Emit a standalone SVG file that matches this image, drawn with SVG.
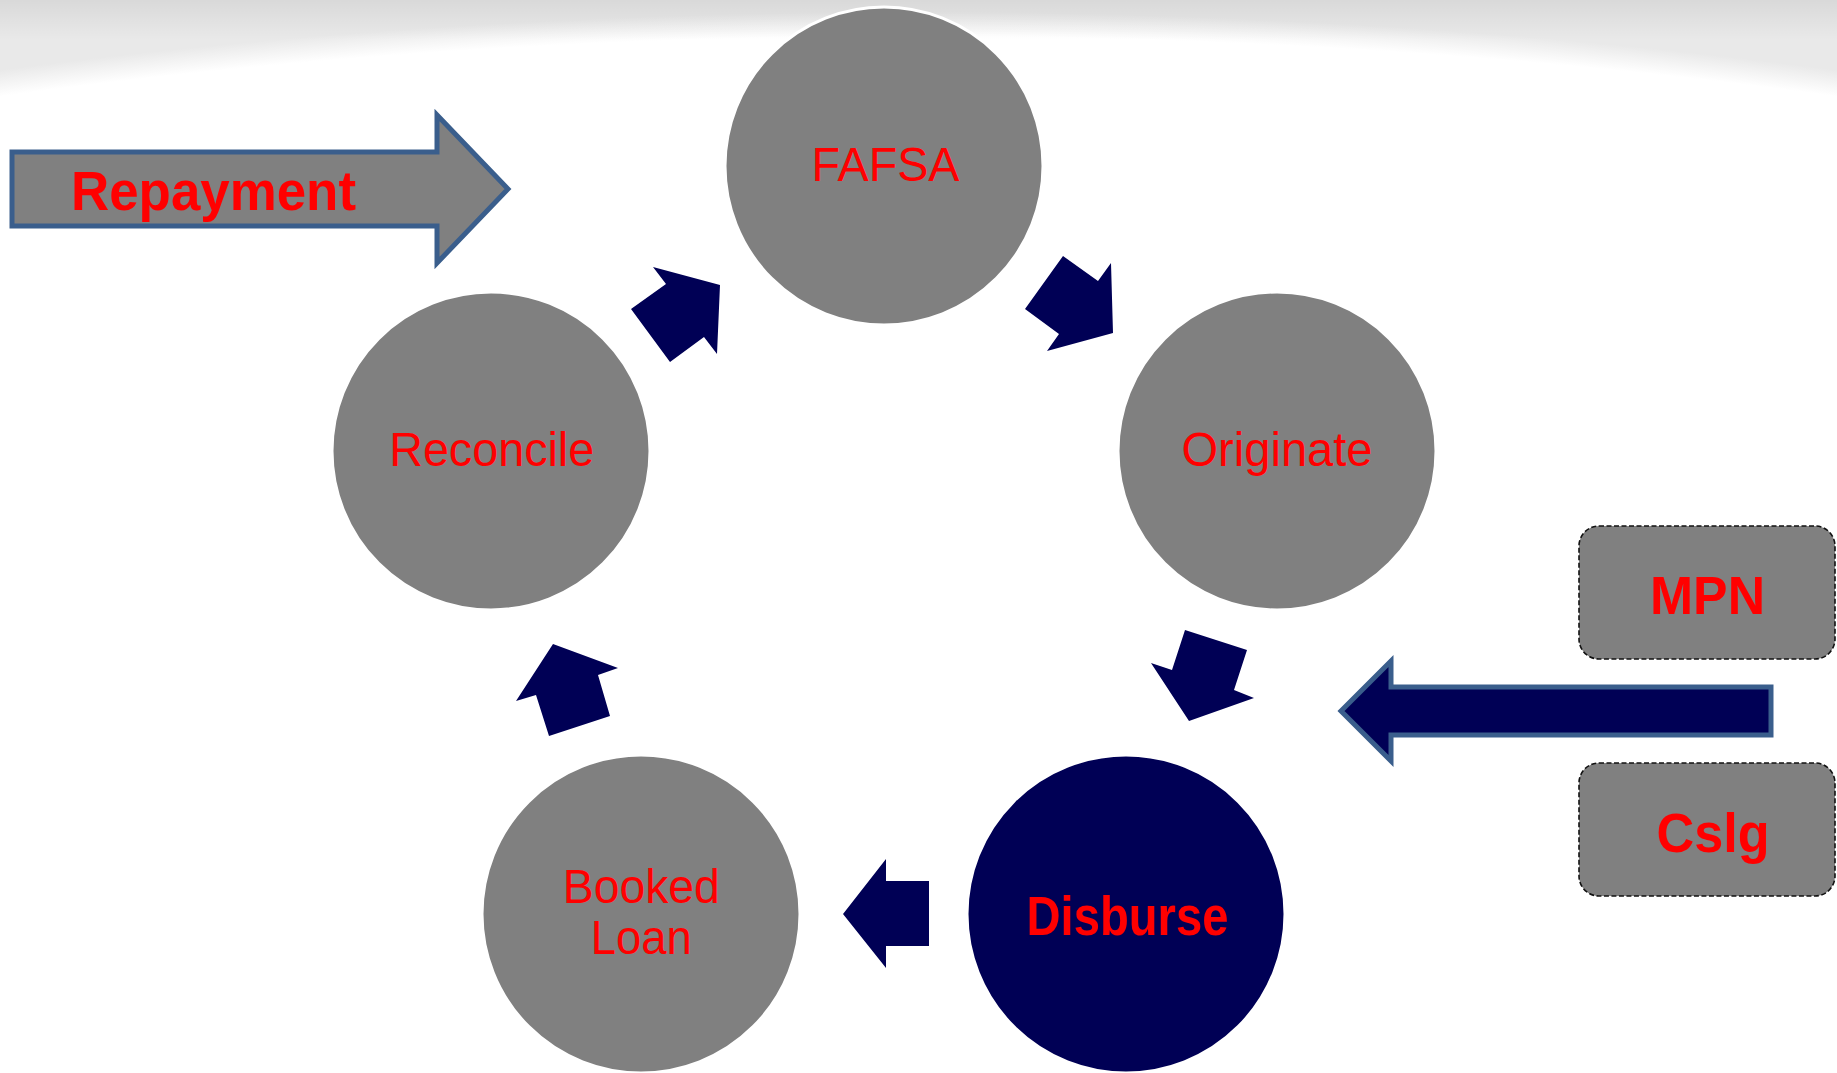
<svg xmlns="http://www.w3.org/2000/svg" width="1837" height="1073" viewBox="0 0 1837 1073">
  <defs>
    <radialGradient id="topShade" gradientUnits="userSpaceOnUse" cx="918" cy="700" r="688" gradientTransform="translate(918 700) scale(3.32 1) translate(-918 -700)">
      <stop offset="0.965" stop-color="#ffffff"/>
      <stop offset="1" stop-color="#e9e9e9"/>
    </radialGradient>
    <linearGradient id="topEdge" x1="0" y1="0" x2="0" y2="1">
      <stop offset="0" stop-color="#000000" stop-opacity="0.07"/>
      <stop offset="1" stop-color="#000000" stop-opacity="0"/>
    </linearGradient>
    <style>
      .step { fill: #808080; stroke: #ffffff; stroke-width: 3; }
      .active { fill: #000055; stroke: #ffffff; stroke-width: 3; }
      .label { font-family: "Liberation Sans", Arial, sans-serif; fill: #ff0000; text-anchor: middle; }
      .reg { font-size: 48px; }
      .bold { font-weight: bold; }
      .flow { fill: #000055; }
      .feed { stroke: #3a5e8c; stroke-width: 5; stroke-linejoin: miter; }
      .doc { fill: #808080; stroke: #111111; stroke-width: 1.6; stroke-dasharray: 5 2.5; }
    </style>
  </defs>

  <!-- page background with soft shading along the top edge -->
  <rect x="0" y="0" width="1837" height="1073" fill="#ffffff"/>
  <rect x="0" y="0" width="1837" height="200" fill="url(#topShade)"/>
  <rect x="0" y="0" width="1837" height="40" fill="url(#topEdge)"/>

  <!-- lifecycle steps -->
  <g id="fafsa">
    <circle class="step" cx="884" cy="166" r="159"/>
    <text class="label reg" x="885.5" y="181" textLength="148" lengthAdjust="spacingAndGlyphs">FAFSA</text>
  </g>
  <g id="originate">
    <circle class="step" cx="1277" cy="451" r="159"/>
    <text class="label reg" x="1277" y="466" textLength="191" lengthAdjust="spacingAndGlyphs">Originate</text>
  </g>
  <g id="disburse">
    <circle class="active" cx="1126" cy="914" r="159"/>
    <text class="label bold" x="1127.5" y="935" font-size="56" textLength="202" lengthAdjust="spacingAndGlyphs">Disburse</text>
  </g>
  <g id="booked-loan">
    <circle class="step" cx="641" cy="914" r="159"/>
    <text class="label reg" x="641.3" y="903" textLength="157" lengthAdjust="spacingAndGlyphs">Booked</text>
    <text class="label reg" x="641.2" y="954" textLength="101" lengthAdjust="spacingAndGlyphs">Loan</text>
  </g>
  <g id="reconcile">
    <circle class="step" cx="491" cy="451" r="159"/>
    <text class="label reg" x="491.7" y="466" textLength="205" lengthAdjust="spacingAndGlyphs">Reconcile</text>
  </g>

  <!-- repayment exit arrow -->
  <g id="repayment">
    <polygon class="feed" fill="#808080" points="12,152 437,152 437,115 508,189 437,263 437,226 12,226"/>
    <text class="label bold" x="213.5" y="209.5" font-size="55" textLength="285" lengthAdjust="spacingAndGlyphs">Repayment</text>
  </g>

  <!-- documents required before disbursement -->
  <g id="mpn">
    <rect class="doc" x="1579" y="526" width="256" height="133" rx="20" ry="20"/>
    <text class="label bold" x="1707.5" y="614" font-size="54" textLength="115" lengthAdjust="spacingAndGlyphs">MPN</text>
  </g>
  <g id="cslg">
    <rect class="doc" x="1579" y="763" width="256" height="133" rx="20" ry="20"/>
    <text class="label bold" x="1713" y="852" font-size="55" textLength="113" lengthAdjust="spacingAndGlyphs">Cslg</text>
  </g>

  <!-- connectors between the steps -->
  <g id="connectors">
    <polygon class="flow" points="653,267 720,285 717,354 704,337 670,362 631,309 666,284"/>
    <polygon class="flow" points="1063,256 1098,281 1111,263 1113,333 1047,351 1059,334 1025,309"/>
    <polygon class="flow" points="1185,630 1247,650 1234,690 1254,698 1189,721 1151,663 1172,670"/>
    <polygon class="flow" points="843,914 886,859 886,881 929,881 929,946 886,946 886,968"/>
    <polygon class="flow" points="553,644 618,668 598,675 610,716 549,736 536,695 516,701"/>
    <polygon class="flow feed" points="1341,711 1391,661 1391,687 1771,687 1771,735 1391,735 1391,761"/>
  </g>
</svg>
